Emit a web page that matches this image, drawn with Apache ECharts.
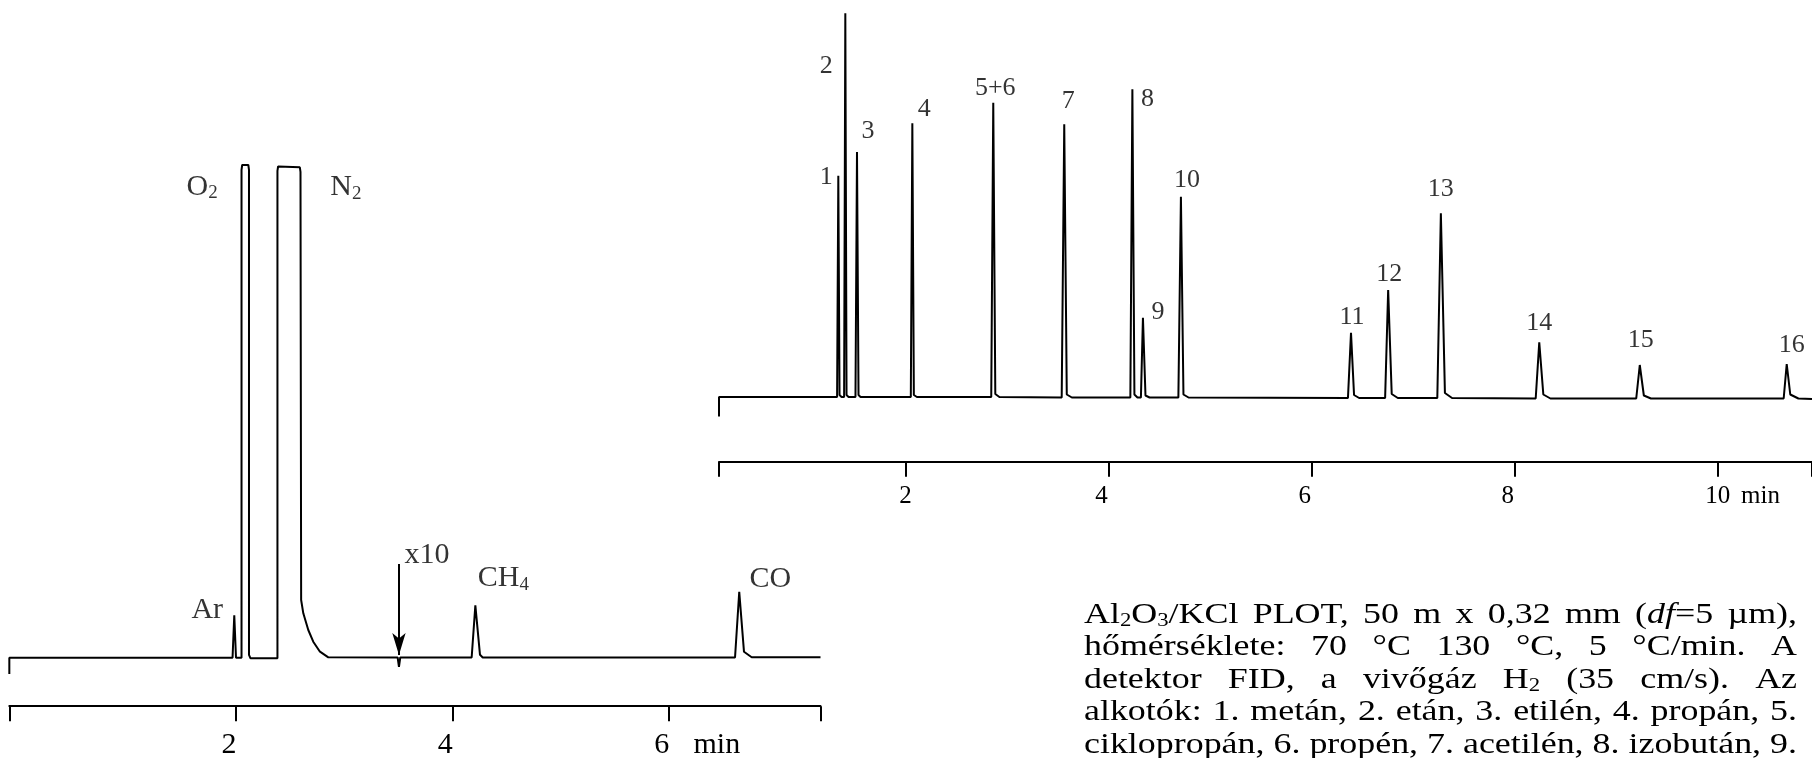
<!DOCTYPE html>
<html>
<head>
<meta charset="utf-8">
<title>GC chromatograms</title>
<script src="https://cdn.jsdelivr.net/npm/echarts@6.0.0/dist/echarts.min.js"></script>
<style>
html,body{margin:0;padding:0;background:#ffffff;}
#chart{width:1812px;height:758px;}
</style>
</head>
<body>
<div id="chart"></div>
<script>
// ===== Left chromatogram: permanent gases (time in min, detector signal in arbitrary units) =====
const leftTraceTime = [-0.094, -0.094, 1.969, 1.985, 2.001, 2.052, 2.052, 2.058, 2.115, 2.121, 2.121, 2.135,
  2.384, 2.384, 2.390, 2.591, 2.597, 2.603, 2.623, 2.669, 2.715, 2.777, 2.854,
  3.495, 3.507, 3.519, 4.179, 4.213, 4.256, 4.281, 6.613, 6.652, 6.696, 6.767, 7.403];
const leftTraceSignal = [-16.2, 0, 0, 42.5, 0, 0, 488, 492.8, 492.8, 488, 3, -0.5,
  -0.5, 487, 491.3, 490.5, 486, 57.8, 44.5, 27.8, 16.1, 6.1, 0.5,
  0.3, -9, 0.3, 0.3, 52.5, 3, 0.3, 0.3, 66, 6, 0.5, 0.5];
const leftPeakNames   = ['Ar', 'O{s|2}', 'N{s|2}', 'x10', 'CH{s|4}', 'CO'];
const leftPeakTimes   = [1.985, 2.086, 2.49, 3.507, 4.213, 6.652];
const leftPeakSignals = [42.5, 492.8, 491.3, 93.8, 52.5, 66];
const leftArrowTime = 3.507, leftArrowFrom = 93.8, leftArrowTo = 2.8;
const leftTickValues = [2, 4, 6];
const leftTickLabels = ['2', '4', '6'];
const leftAxisMin = -0.094, leftAxisMax = 7.403;

// ===== Right chromatogram: hydrocarbons =====
const rightPeakNames   = ['1','2','3','4','5+6','7','8','9','10','11','12','13','14','15','16'];
const rightPeakTimes   = [1.338, 1.407, 1.522, 2.067, 2.864, 3.563, 4.234, 4.338, 4.712, 6.387, 6.753, 7.272, 8.241, 9.231, 10.678];
const rightPeakSignals = [221.3, 383.7, 245, 273.7, 294.3, 272.7, 307.7, 79.3, 200.3, 64.3, 107, 183.7, 54.7, 32, 33];
const rightPeakRise    = [0.012, 0.012, 0.015, 0.015, 0.02, 0.025, 0.02, 0.02, 0.025, 0.03, 0.03, 0.035, 0.035, 0.035, 0.03];
const rightPeakFall    = [0.012, 0.012, 0.015, 0.015, 0.02, 0.025, 0.02, 0.025, 0.025, 0.03, 0.035, 0.04, 0.04, 0.04, 0.035];
const rightPeakTail    = [0.02, 0.02, 0.02, 0.03, 0.04, 0.05, 0.03, 0.04, 0.05, 0.05, 0.06, 0.07, 0.07, 0.07, 0.08];
const rightPeakKnee    = [2, 2, 2, 2, 3, 3, 3, 2, 3, 3, 4, 5, 4, 3, 4];
const rightPeakBase    = [0, 0, 0, 0, 0, -0.5, -0.5, -0.5, -0.5, -1, -1, -1, -1.5, -1.5, -1.5];
const rightStartMark = -19.5, rightEndBase = -2;
const rightTickValues = [2, 4, 6, 8, 10];
const rightTickLabels = ['2', '4', '6', '8', '10'];
const rightAxisMin = 0.163, rightAxisMax = 10.927;
const timeUnit = 'min';

// ===== Caption text =====
const paragraphLines = [
  ['Al{s|2}O{s|3}/KCl', 'PLOT,', '50', 'm', 'x', '0,32', 'mm', '({i|df}=5', 'µm),'],
  ['hőmérséklete:', '70', '°C', '130', '°C,', '5', '°C/min.', 'A'],
  ['detektor', 'FID,', 'a', 'vivőgáz', 'H{s|2}', '(35', 'cm/s).', 'Az'],
  ['alkotók:', '1.', 'metán,', '2.', 'etán,', '3.', 'etilén,', '4.', 'propán,', '5.'],
  ['ciklopropán,', '6.', 'propén,', '7.', 'acetilén,', '8.', 'izobután,', '9.']
];

// ===== layout / style (not data) =====
const FAMILY = '"Liberation Serif", "Times New Roman", Times, serif';
const leftLabelOffsets  = [[-27, -5], [-43, 22], [57, 21], [28, -9], [28, -27], [31, -13]];
const rightLabelOffsets = [[-12, 1], [-19, 53], [11, -21], [12, -14], [2, -15], [4, -23], [15, 10], [15, -6],
  [6, -17], [1, -16], [1, -16], [0, -24], [0, -19], [1, -25], [5, -19]];
const leftLabelShift  = [true, true, true];
const rightLabelShift = [false, true, true, true, false];
const leftUnitAt = 6.445, rightUnitAt = 10.42;

// build series data
const leftData = leftTraceTime.map((t, i) => [t, leftTraceSignal[i]]);
const rightData = [[rightAxisMin, rightStartMark], [rightAxisMin, 0]];
rightPeakTimes.forEach((t, i) => {
  const b = rightPeakBase[i];
  rightData.push([t - rightPeakRise[i], b]);
  rightData.push([t, rightPeakSignals[i]]);
  rightData.push([t + rightPeakFall[i], b + rightPeakKnee[i]]);
  rightData.push([t + rightPeakFall[i] + rightPeakTail[i], b]);
});
rightData.push([rightAxisMax, rightEndBase]);

function axisCfg(gridIndex, min, max, offset, margin, fontSize, tickVals, tickLabels, shifts, unitAt) {
  return {
    type: 'value', gridIndex: gridIndex, min: min, max: max, position: 'bottom', offset: offset,
    splitLine: {show: false},
    axisLine: {show: true, onZero: false, lineStyle: {color: '#000', width: 2}},
    axisTick: {show: true, inside: false, length: 15, lineStyle: {color: '#000', width: 2},
      customValues: [min].concat(tickVals, [max])},
    axisLabel: {
      show: true, margin: margin, color: '#000', fontSize: fontSize, fontFamily: FAMILY,
      customValues: tickVals.concat([unitAt]),
      showMinLabel: true, showMaxLabel: true,
      formatter: function (v) {
        if (Math.abs(v - unitAt) < 1e-6) return timeUnit;
        const idx = tickVals.findIndex(x => Math.abs(x - v) < 1e-6);
        if (idx < 0) return '';
        return shifts[idx] ? '{l|' + tickLabels[idx] + '}' : tickLabels[idx];
      },
      rich: {l: {fontSize: fontSize, fontFamily: FAMILY, color: '#000', padding: [0, 14, 0, 0]}}
    }
  };
}

function labelSeries(xi, yi, names, times, signals, offsets, size, subSize, subPad) {
  return {
    type: 'scatter', xAxisIndex: xi, yAxisIndex: yi, silent: true, symbolSize: 1,
    itemStyle: {color: 'rgba(0,0,0,0)'},
    data: times.map((t, i) => ({
      value: [t, signals[i]],
      label: {offset: offsets[i], formatter: names[i]}
    })),
    label: {show: true, position: 'inside', color: '#000', fontSize: size, fontFamily: FAMILY,
      rich: {s: {fontSize: subSize, fontFamily: FAMILY, color: '#000', padding: [subPad, 0, 0, 0]}}},
    z: 5
  };
}

// caption words laid out as justified text
const mctx = document.createElement('canvas').getContext('2d');
const PARA_SIZE = 30, SUB_SIZE = 19;
function segs(word) {
  const out = []; const re = /\{(\w)\|([^}]*)\}/g; let last = 0, m;
  while ((m = re.exec(word))) {
    if (m.index > last) out.push(['n', word.slice(last, m.index)]);
    out.push([m[1], m[2]]); last = re.lastIndex;
  }
  if (last < word.length) out.push(['n', word.slice(last)]);
  return out;
}
function wordWidth(word) {
  let w = 0;
  segs(word).forEach(([k, t]) => {
    mctx.font = (k === 'i' ? 'italic ' : '') + (k === 's' ? SUB_SIZE : PARA_SIZE) + 'px ' + FAMILY;
    w += mctx.measureText(t).width;
  });
  return w;
}
mctx.font = PARA_SIZE + 'px ' + FAMILY;
const spaceW = mctx.measureText(' ').width;
const paraLeft = 1084, paraRight = 1797, paraTop = 615, paraPitch = 32.5;
const paraWidth = paraRight - paraLeft;
const natural = paragraphLines.map(ws => ws.reduce((a, w) => a + wordWidth(w), 0) + spaceW * (ws.length - 1));
const sx = Math.min.apply(null, natural.map(n => paraWidth / n));
const graphics = [];
const richPara = {
  s: {fontSize: SUB_SIZE, fontFamily: FAMILY, fill: '#000', padding: [13, 0, 0, 0]},
  i: {fontSize: PARA_SIZE, fontFamily: FAMILY, fontStyle: 'italic', fill: '#000'}
};
paragraphLines.forEach((ws, li) => {
  const widths = ws.map(w => wordWidth(w) * sx);
  const total = widths.reduce((a, b) => a + b, 0);
  const gap = (paraWidth - total) / (ws.length - 1);
  let x = paraLeft;
  ws.forEach((w, wi) => {
    const isLast = wi === ws.length - 1;
    graphics.push({
      type: 'text', x: isLast ? paraRight : x, y: paraTop + li * paraPitch,
      scaleX: sx, originX: 0, originY: 0, silent: true,
      style: {
        text: w, fill: '#000', fontSize: PARA_SIZE, fontFamily: FAMILY,
        align: isLast ? 'right' : 'left', verticalAlign: 'middle', rich: richPara
      }
    });
    x += widths[wi] + gap;
  });
});

const chart = echarts.init(document.getElementById('chart'), null, {renderer: 'canvas'});
chart.setOption({
  animation: false,
  backgroundColor: '#ffffff',
  grid: [
    {left: 9.33, right: 991.5, top: 157.8, bottom: 80.2, containLabel: false, outerBoundsMode: 'none'},
    {left: 719, right: 0, top: 7, bottom: 341, containLabel: false, outerBoundsMode: 'none'}
  ],
  xAxis: [
    axisCfg(0, leftAxisMin, leftAxisMax, 28.4, 23.5, 30, leftTickValues, leftTickLabels, leftLabelShift, leftUnitAt),
    axisCfg(1, rightAxisMin, rightAxisMax, 44.7, 22.5, 25, rightTickValues, rightTickLabels, rightLabelShift, rightUnitAt)
  ],
  yAxis: [
    {type: 'value', gridIndex: 0, min: -20, max: 500, show: false},
    {type: 'value', gridIndex: 1, min: -20, max: 390, show: false}
  ],
  graphic: graphics,
  series: [
    {
      type: 'line', xAxisIndex: 0, yAxisIndex: 0, data: leftData, showSymbol: false, symbol: 'none',
      silent: true, clip: false,
      lineStyle: {color: '#000', width: 2, join: 'bevel'},
      markLine: {
        silent: true,
        lineStyle: {color: '#000', width: 2, type: 'solid'},
        label: {show: false},
        data: [[
          {coord: [leftArrowTime, leftArrowFrom], symbol: 'none'},
          {coord: [leftArrowTime, leftArrowTo], symbol: 'arrow', symbolSize: [10, 22]}
        ]]
      }
    },
    {
      type: 'line', xAxisIndex: 1, yAxisIndex: 1, data: rightData, showSymbol: false, symbol: 'none',
      silent: true, clip: false,
      lineStyle: {color: '#000', width: 2, join: 'bevel'}
    },
    labelSeries(0, 0, leftPeakNames, leftPeakTimes, leftPeakSignals, leftLabelOffsets, 30, 19, 13),
    labelSeries(1, 1, rightPeakNames, rightPeakTimes, rightPeakSignals, rightLabelOffsets, 26, 17, 12)
  ]
});
</script>
</body>
</html>
